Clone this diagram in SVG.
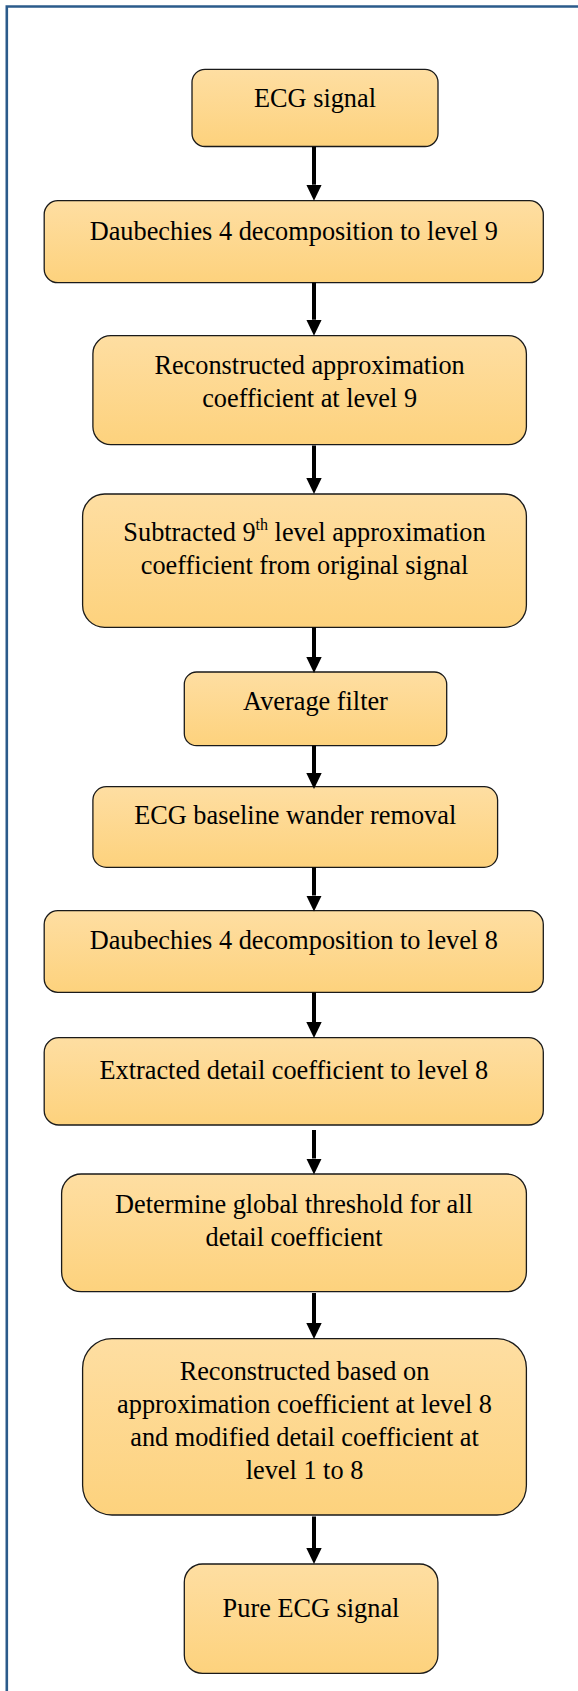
<svg xmlns="http://www.w3.org/2000/svg" width="578" height="1691" viewBox="0 0 578 1691">
<defs>
<linearGradient id="fill" x1="0" y1="0" x2="0" y2="1">
<stop offset="0" stop-color="#FEDEA2"/>
<stop offset="1" stop-color="#FDD27D"/>
</linearGradient>
<marker id="head" viewBox="0 0 16 16" refX="0" refY="8" markerWidth="16" markerHeight="16" markerUnits="userSpaceOnUse" orient="auto">
<path d="M0,0.3 L16,8 L0,15.7 Z" fill="#000"/>
</marker>
</defs>
<style>
.box{fill:url(#fill);stroke:#1a1a1a;stroke-width:1.3}
.t{font-family:"Liberation Serif","Times New Roman",serif;font-size:26.3px;fill:#000;text-anchor:middle}
.sup{font-size:16px}
.arr{stroke:#000;stroke-width:4;fill:none;marker-end:url(#head)}
.frame{stroke:#2B5B8B;stroke-width:2.6;fill:none}
</style>
<g id="frame">
<path class="frame" d="M6.8,1691 L6.8,6.5 L578,6.5"/>
</g>
<g id="n1"><rect class="box" x="192" y="69.3" width="246" height="77.2" rx="13"/><text class="t" x="315" y="106.7">ECG signal</text></g>
<g id="n2"><rect class="box" x="44.2" y="200.7" width="499.1" height="82" rx="13.7"/><text class="t" x="293.8" y="240">Daubechies 4 decomposition to level 9</text></g>
<g id="n3"><rect class="box" x="92.9" y="335.7" width="433.5" height="109" rx="18"/><text class="t" x="309.6" y="374">Reconstructed approximation</text><text class="t" x="309.6" y="407.3">coefficient at level 9</text></g>
<g id="n4"><rect class="box" x="82.6" y="494" width="443.8" height="133.3" rx="22"/><text class="t" x="304.5" y="540.7">Subtracted 9<tspan class="sup" dy="-11">th</tspan><tspan dy="11"> level approximation</tspan></text><text class="t" x="304.5" y="574">coefficient from original signal</text></g>
<g id="n5"><rect class="box" x="184.3" y="672" width="262.4" height="73.7" rx="12.3"/><text class="t" x="315.5" y="710">Average filter</text></g>
<g id="n6"><rect class="box" x="92.9" y="786.7" width="404.7" height="80.6" rx="13.4"/><text class="t" x="295.2" y="824">ECG baseline wander removal</text></g>
<g id="n7"><rect class="box" x="44.2" y="910.7" width="499.1" height="81.6" rx="13.6"/><text class="t" x="293.8" y="949">Daubechies 4 decomposition to level 8</text></g>
<g id="n8"><rect class="box" x="44.2" y="1037.7" width="499.1" height="87.3" rx="14.6"/><text class="t" x="293.8" y="1079.3">Extracted detail coefficient to level 8</text></g>
<g id="n9"><rect class="box" x="61.6" y="1174" width="464.8" height="117.7" rx="19.6"/><text class="t" x="294" y="1212.7">Determine global threshold for all</text><text class="t" x="294" y="1246">detail coefficient</text></g>
<g id="n10"><rect class="box" x="82.6" y="1338.7" width="443.8" height="176.3" rx="29.4"/><text class="t" x="304.5" y="1380">Reconstructed based on</text><text class="t" x="304.5" y="1413.3">approximation coefficient at level 8</text><text class="t" x="304.5" y="1446">and modified detail coefficient at</text><text class="t" x="304.5" y="1479.3">level 1 to 8</text></g>
<g id="n11"><rect class="box" x="184.3" y="1564" width="253.6" height="109.3" rx="18.2"/><text class="t" x="311" y="1616.7">Pure ECG signal</text></g>
<g id="connectors">
<line class="arr" x1="314" y1="146.7" x2="314" y2="184.7"/>
<line class="arr" x1="314" y1="282.7" x2="314" y2="319.7"/>
<line class="arr" x1="314" y1="445.5" x2="314" y2="478"/>
<line class="arr" x1="314" y1="627.3" x2="314" y2="657"/>
<line class="arr" x1="314" y1="745.7" x2="314" y2="773"/>
<line class="arr" x1="314" y1="867.3" x2="314" y2="895.5"/>
<line class="arr" x1="314" y1="992.3" x2="314" y2="1022"/>
<line class="arr" x1="314" y1="1130" x2="314" y2="1158.5"/>
<line class="arr" x1="314" y1="1293" x2="314" y2="1323"/>
<line class="arr" x1="314" y1="1516.5" x2="314" y2="1548"/>
</g>
</svg>
